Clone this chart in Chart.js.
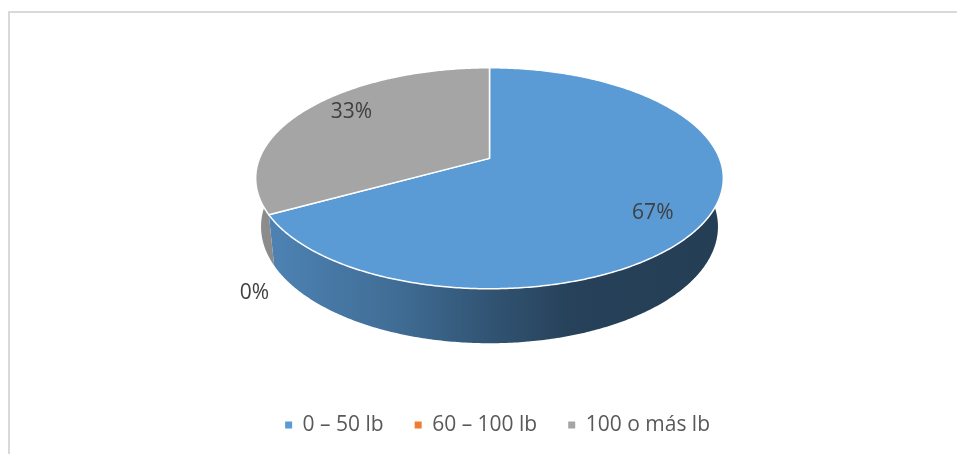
<!DOCTYPE html>
<html>
<head>
<meta charset="utf-8">
<script src="https://cdn.jsdelivr.net/npm/chart.js@4.4.1/dist/chart.umd.min.js"></script>
<style>
  html, body { margin: 0; padding: 0; background: #ffffff; }
  #wrap { position: relative; width: 957px; height: 454px; overflow: hidden; }
  #frame { position: absolute; left: 8px; top: 11px; width: 1000px; height: 500px;
           border-left: 2px solid #d9d9d9; border-top: 2px solid #d9d9d9; }
  canvas { position: absolute; left: 0; top: 0; }
</style>
</head>
<body>
<div id="wrap">
  <div id="frame"></div>
  <canvas id="chart" width="957" height="454"></canvas>
</div>
<script>
// Weight ranges and their share of the answers (percent)
const categories = ['0 – 50 lb', '60 – 100 lb', '100 o más lb'];
const shares = [67, 0, 33];

const sliceColors = ['#5b9bd5', '#ed7d31', '#a5a5a5'];

// 3D look of the pie
const TILT = 27.7 * Math.PI / 180;   // how far the disc is tipped towards the viewer
const PERSPECTIVE = 0.18;            // near edge grows, far edge shrinks
const THICKNESS = 0.24;              // slab height as a fraction of the radius
const LABEL_RADIUS = 0.8;
const LABEL_TURN = 5 * Math.PI / 180; // labels sit a little past the middle of a slice
const SIDE_SHADE = [[0, 0.86], [0.3, 0.7], [0.5, 0.54], [0.68, 0.42], [1, 0.4]];

function shade(hex, f) {
  const n = parseInt(hex.slice(1), 16);
  const r = Math.round(((n >> 16) & 255) * f);
  const g = Math.round(((n >> 8) & 255) * f);
  const b = Math.round((n & 255) * f);
  return `rgb(${r},${g},${b})`;
}

const pie3d = {
  id: 'pie3d',
  beforeDatasetsDraw(chart) {
    const arcs = chart.getDatasetMeta(0).data;
    if (!arcs.length) return false;
    const ctx = chart.ctx;
    const R = arcs[0].outerRadius;
    const sinT = Math.sin(TILT), cosT = Math.cos(TILT);
    const D = R * cosT / PERSPECTIVE;
    const H = R * THICKNESS;

    // centre the whole slab (top face + side) inside the chart area
    const above = R * sinT * D / (D + R * cosT);
    const below = (R * sinT + H * cosT) * D / (D - (R * cosT - H * sinT));
    const cx = arcs[0].x;
    const cy = arcs[0].y - (below - above) / 2;

    // angle on the disc, fraction of radius, height (0 = top face, -H = bottom)
    const proj = (ang, r, y) => {
      const X = r * R * Math.cos(ang), Z = r * R * Math.sin(ang);
      const yc = Z * sinT - y * cosT;
      const zc = Z * cosT + y * sinT;
      const s = D / (D - zc);
      return [cx + X * s, cy + yc * s];
    };
    const steps = (a, b) => Math.max(2, Math.ceil(Math.abs(b - a) / 0.01));

    ctx.save();
    ctx.lineJoin = 'round';

    // outer side walls, only the half that faces the viewer
    arcs.forEach((arc) => {
      const lo = Math.max(arc.startAngle, 0);
      const hi = Math.min(arc.endAngle, Math.PI);
      if (hi - lo <= 0) return;
      const n = steps(lo, hi);
      ctx.beginPath();
      for (let k = 0; k <= n; k++) {
        const p = proj(lo + (hi - lo) * k / n, 1, 0);
        k ? ctx.lineTo(p[0], p[1]) : ctx.moveTo(p[0], p[1]);
      }
      for (let k = n; k >= 0; k--) {
        const p = proj(lo + (hi - lo) * k / n, 1, -H);
        ctx.lineTo(p[0], p[1]);
      }
      ctx.closePath();
      const base = arc.options.backgroundColor;
      const grad = ctx.createLinearGradient(cx - R * 1.02, 0, cx + R * 1.02, 0);
      SIDE_SHADE.forEach(([at, f]) => grad.addColorStop(at, shade(base, f)));
      ctx.fillStyle = grad;
      ctx.fill();
    });

    // top faces
    arcs.forEach((arc) => {
      const a = arc.startAngle, b = arc.endAngle;
      if (b - a <= 0) return;
      const n = steps(a, b);
      const c = proj(0, 0, 0);
      ctx.beginPath();
      ctx.moveTo(c[0], c[1]);
      for (let k = 0; k <= n; k++) {
        const p = proj(a + (b - a) * k / n, 1, 0);
        ctx.lineTo(p[0], p[1]);
      }
      ctx.closePath();
      ctx.fillStyle = arc.options.backgroundColor;
      ctx.fill();
      ctx.strokeStyle = arc.options.borderColor;
      ctx.lineWidth = arc.options.borderWidth;
      ctx.stroke();
    });

    // percentage labels
    const total = shares.reduce((s, v) => s + v, 0);
    ctx.font = '21px "Open Sans"';
    ctx.fillStyle = '#404040';
    ctx.textBaseline = 'middle';
    arcs.forEach((arc, i) => {
      const text = Math.round(shares[i] / total * 100) + '%';
      const mid = (arc.startAngle + arc.endAngle) / 2;
      if (arc.endAngle - arc.startAngle < 0.2) {
        // too thin to hold its label: put it outside, under the rim
        const p = proj(mid, 1, -H);
        ctx.textAlign = 'right';
        ctx.fillText(text, p[0] - 5, p[1] + 27);
      } else {
        const p = proj(mid + LABEL_TURN, LABEL_RADIUS, 0);
        ctx.textAlign = 'center';
        ctx.fillText(text, p[0], p[1]);
      }
    });
    ctx.restore();
    return false;
  }
};

new Chart(document.getElementById('chart'), {
  type: 'pie',
  data: {
    labels: categories,
    datasets: [{
      data: shares,
      backgroundColor: sliceColors,
      borderColor: '#ffffff',
      borderWidth: 1.5,
      radius: 230
    }]
  },
  options: {
    responsive: false,
    animation: false,
    events: [],
    layout: { padding: { left: 238, right: 216, top: 27.5, bottom: 8.5 } },
    plugins: {
      tooltip: { enabled: false },
      legend: {
        position: 'bottom',
        align: 'end',
        labels: {
          boxWidth: 7,
          boxHeight: 7,
          padding: 31,
          color: '#595959',
          font: { family: '"Open Sans"', size: 21 },
          generateLabels(chart) {
            return Chart.overrides.pie.plugins.legend.labels.generateLabels(chart)
              .map(item => Object.assign(item, { lineWidth: 0 }));
          }
        }
      }
    }
  },
  plugins: [pie3d]
});
</script>
</body>
</html>
